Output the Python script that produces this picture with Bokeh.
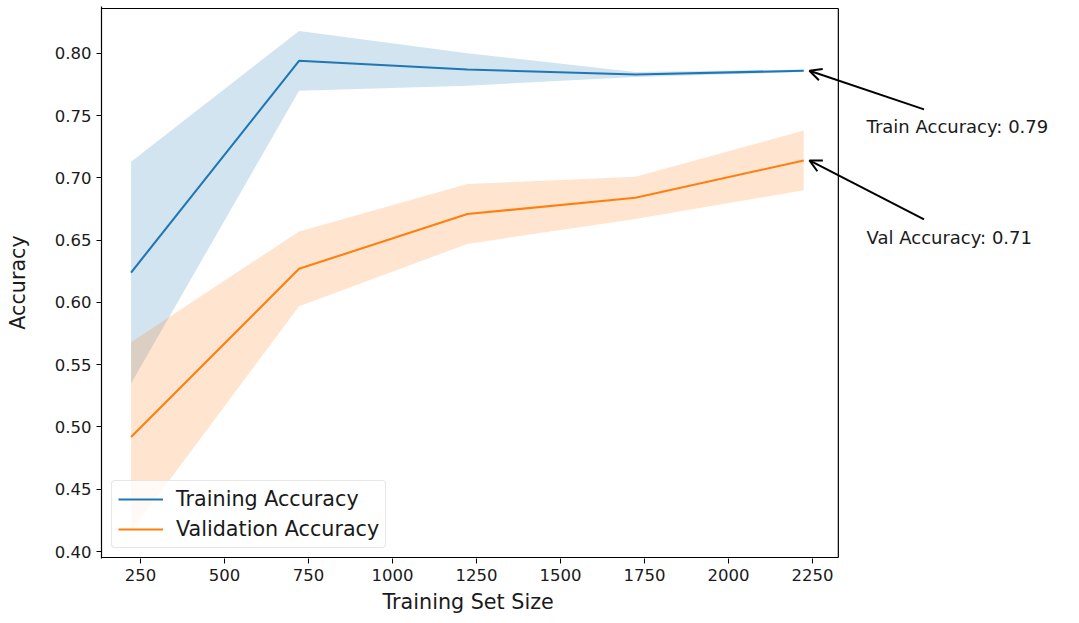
from bokeh.plotting import figure
from bokeh.models import (Range1d, FixedTicker, NumeralTickFormatter, Legend, LegendItem,
                          Arrow, OpenHead, Label, Title)
from bokeh.embed import file_html
from bokeh.resources import INLINE

# ---- data ----
train_sizes = [222, 722, 1223, 1723, 2224]
train_mean = [0.624, 0.794, 0.787, 0.783, 0.786]
train_std = [0.089, 0.024, 0.013, 0.002, 0.001]
val_mean = [0.492, 0.627, 0.671, 0.684, 0.714]
val_std = [0.076, 0.030, 0.024, 0.017, 0.024]
x_ticks = [250, 500, 750, 1000, 1250, 1500, 1750, 2000, 2250]
y_ticks = [0.40, 0.45, 0.50, 0.55, 0.60, 0.65, 0.70, 0.75, 0.80]

# visible axes box (the frame is extended to the right to host the annotations)
XMIN, XMAX = 134, 2327
YMIN, YMAX = 0.3952, 0.836

BLUE = "#1f77b4"
ORANGE = "#ff7f0e"
FONT = "DejaVu Sans"
TICK_FS = "16.5px"
LAB_FS = "20.7px"
NOTE_FS = "18px"
TXT = "#1a1a1a"

p = figure(width=1079, height=623, output_backend="svg", toolbar_location=None,
           x_range=Range1d(XMIN, XMIN + 978 / 0.336),
           y_range=Range1d(YMIN - 1 / 1245, YMAX + 2 / 1245),
           min_border_left=101, min_border_right=0, min_border_top=6, min_border_bottom=65)
p.background_fill_color = "white"
p.border_fill_color = "white"
p.outline_line_color = None
p.xgrid.visible = False
p.ygrid.visible = False

tr_up = [m + s for m, s in zip(train_mean, train_std)]
tr_lo = [m - s for m, s in zip(train_mean, train_std)]
va_up = [m + s for m, s in zip(val_mean, val_std)]
va_lo = [m - s for m, s in zip(val_mean, val_std)]

p.varea(x=train_sizes, y1=tr_lo, y2=tr_up, fill_color=BLUE, fill_alpha=0.2)
p.varea(x=train_sizes, y1=va_lo, y2=va_up, fill_color=ORANGE, fill_alpha=0.2)
l1 = p.line(train_sizes, train_mean, line_color=BLUE, line_width=2.1)
l2 = p.line(train_sizes, val_mean, line_color=ORANGE, line_width=2.1)

# spines: top, right, bottom
p.segment(x0=[XMIN, XMAX, XMIN], y0=[YMAX, YMIN, YMIN],
          x1=[XMAX, XMAX, XMAX], y1=[YMAX, YMAX, YMIN],
          line_color="black", line_width=1.2)

legend = Legend(items=[LegendItem(label="Training Accuracy", renderers=[l1]),
                       LegendItem(label="Validation Accuracy", renderers=[l2])],
                location="bottom_left")
legend.label_text_font = FONT
legend.label_text_font_size = LAB_FS
legend.label_text_color = TXT
legend.border_line_color = "#d0d0d0"
legend.border_line_width = 1
legend.border_radius = 4
legend.background_fill_alpha = 0.8
legend.glyph_width = 45
legend.glyph_height = 24
legend.label_height = 24
legend.label_standoff = 13
legend.spacing = 6
legend.padding = 6
legend.margin = 10
p.add_layout(legend)

for ax in (p.xaxis[0], p.yaxis[0]):
    ax.axis_line_color = "black"
    ax.axis_line_width = 1.2
    ax.major_tick_line_color = "black"
    ax.minor_tick_line_color = None
    ax.major_tick_out = 5
    ax.major_tick_in = 0
    ax.major_label_text_font = FONT
    ax.major_label_text_font_size = TICK_FS
    ax.major_label_text_color = TXT
    ax.axis_label_text_font = FONT
    ax.axis_label_text_font_size = LAB_FS
    ax.axis_label_text_font_style = "normal"
    ax.axis_label_text_color = TXT
p.xaxis.axis_line_color = None

p.xaxis.ticker = FixedTicker(ticks=x_ticks)
p.yaxis.ticker = FixedTicker(ticks=y_ticks)
p.yaxis.formatter = NumeralTickFormatter(format="0.00")
p.yaxis.axis_label = "Accuracy"
p.yaxis.axis_label_standoff = 22

# x-axis label centred under the visible axes box
xt = Title(text="Training Set Size", align="left", offset=281, standoff=9,
           text_font=FONT, text_font_size=LAB_FS, text_font_style="normal",
           text_color=TXT)
p.add_layout(xt, "below")

# ---- annotations ----
notes = [("Train Accuracy: %.2f" % train_mean[-1], train_mean[-1], -0.031, -0.045),
         ("Val Accuracy: %.2f" % val_mean[-1], val_mean[-1], -0.0474, -0.0615)]
for txt, yv, dtail, dtext in notes:
    xl = train_sizes[-1]
    p.add_layout(Arrow(end=OpenHead(size=12, line_width=2, line_color="black"),
                       x_start=xl + 358, y_start=yv + dtail,
                       x_end=xl + 17, y_end=yv,
                       line_width=2, line_color="black"))
    p.add_layout(Label(x=xl + 187, y=yv + dtext, text=txt, text_baseline="middle",
                       text_font=FONT, text_font_size=NOTE_FS, text_color=TXT))

open("out.html", "w").write(file_html(p, INLINE))
